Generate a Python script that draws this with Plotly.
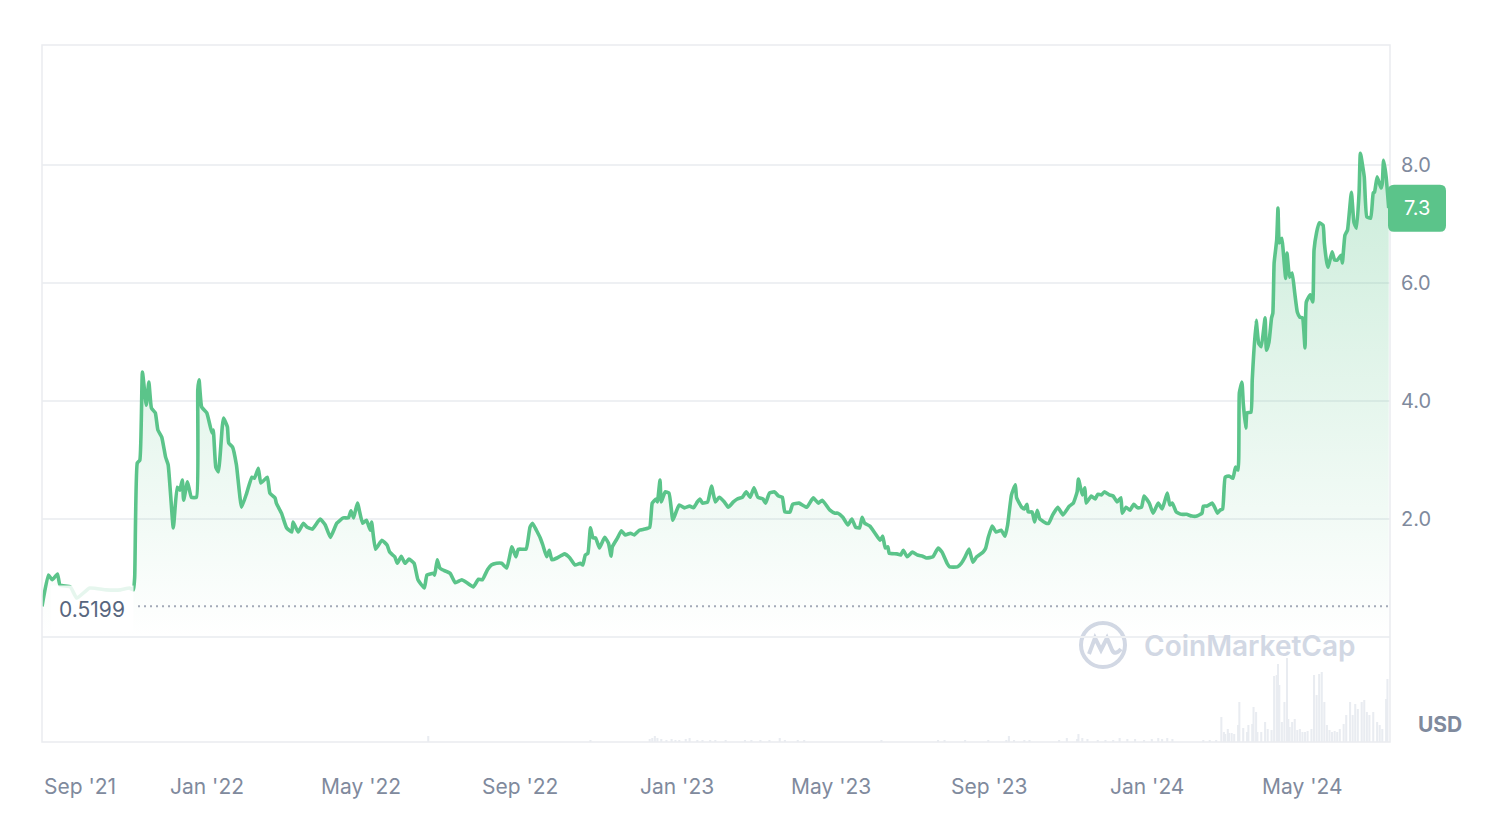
import pandas as pd
import plotly.graph_objects as go

# ---------------- data ----------------
start_date = "2021-08-26"          # left edge of the time axis
end_offset_days = 1047             # right edge of the time axis (days after start)

# price samples: day offset from start_date, price in USD
price_day = [
    0, 5, 8, 12, 14, 22, 27, 37, 50, 61,
    68, 71, 72, 74, 76, 78, 81, 83, 85, 88,
    90, 93, 96, 98, 102, 105, 107, 109, 110, 113,
    116, 120, 121, 122, 124, 128, 132, 133, 135, 137,
    140, 141, 144, 145, 148, 151, 155, 159, 163, 165,
    168, 170, 175, 177, 181, 182, 186, 190, 194, 195,
    199, 203, 206, 210, 216, 220, 224, 229, 234, 238,
    240, 242, 245, 249, 252, 255, 256, 259, 264, 268,
    270, 274, 276, 279, 282, 285, 289, 292, 297, 299,
    304, 305, 307, 309, 311, 317, 321, 326, 330, 335,
    339, 342, 346, 349, 353, 357, 361, 365, 368, 370,
    376, 379, 381, 384, 387, 389, 392, 394, 396, 400,
    404, 406, 410, 414, 418, 420, 422, 424, 426, 428,
    430, 433, 437, 440, 442, 443, 447, 450, 453, 457,
    460, 464, 468, 472, 474, 477, 478, 480, 481, 484,
    487, 490, 493, 495, 499, 503, 506, 509, 511, 513,
    517, 520, 523, 526, 530, 533, 537, 540, 544, 547,
    550, 553, 556, 560, 562, 565, 569, 572, 575, 577,
    581, 583, 588, 594, 599, 603, 606, 612, 616, 618,
    622, 626, 629, 632, 635, 637, 639, 643, 647, 651,
    653, 655, 657, 658, 664, 667, 669, 672, 676, 680,
    684, 687, 692, 696, 699, 703, 705, 711, 714, 717,
    720, 723, 726, 731, 733, 735, 738, 741, 745, 748,
    750, 753, 756, 757, 761, 763, 765, 766, 769, 771,
    773, 775, 777, 780, 782, 785, 789, 793, 798, 801,
    804, 805, 808, 810, 811, 815, 818, 820, 823, 825,
    829, 832, 835, 838, 839, 842, 845, 848, 851, 854,
    856, 860, 863, 867, 870, 874, 876, 878, 881, 885,
    889, 893, 897, 901, 902, 905, 909, 911, 913, 915,
    917, 919, 922, 925, 927, 929, 930, 932, 933, 935,
    936, 939, 940, 943, 945, 947, 950, 951, 953, 955,
    956, 957, 959, 960, 961, 963, 964, 966, 967, 969,
    971, 973, 975, 977, 979, 981, 982, 985, 987, 988,
    990, 992, 995, 996, 998, 999, 1002, 1004, 1006, 1009,
    1010, 1012, 1014, 1017, 1019, 1021, 1023, 1024, 1027, 1029,
    1032, 1034, 1035, 1037, 1040, 1041, 1042, 1044, 1046,
]
price_usd = [
    0.52, 1.05, 0.97, 1.07, 0.88, 0.85, 0.66, 0.83, 0.80, 0.80,
    0.83, 0.80, 1.02, 2.95, 3.00, 4.49, 3.93, 4.32, 3.88, 3.80,
    3.51, 3.39, 3.05, 2.92, 1.85, 2.54, 2.49, 2.66, 2.32, 2.63,
    2.37, 2.37, 4.19, 4.36, 3.90, 3.80, 3.46, 3.51, 2.88, 2.80,
    3.56, 3.71, 3.56, 3.29, 3.22, 2.92, 2.20, 2.44, 2.71, 2.69,
    2.86, 2.61, 2.71, 2.44, 2.36, 2.27, 2.10, 1.85, 1.78, 1.95,
    1.78, 1.93, 1.86, 1.83, 2.00, 1.90, 1.69, 1.93, 2.02, 2.02,
    2.14, 2.02, 2.27, 1.93, 1.98, 1.81, 1.95, 1.49, 1.64, 1.56,
    1.44, 1.36, 1.25, 1.37, 1.25, 1.32, 1.25, 0.97, 0.83, 1.05,
    1.08, 1.05, 1.31, 1.17, 1.14, 1.08, 0.92, 0.97, 0.92, 0.85,
    0.98, 0.97, 1.14, 1.22, 1.25, 1.25, 1.17, 1.53, 1.36, 1.49,
    1.49, 1.86, 1.93, 1.81, 1.68, 1.56, 1.36, 1.47, 1.31, 1.34,
    1.39, 1.41, 1.34, 1.22, 1.25, 1.22, 1.39, 1.42, 1.85, 1.68,
    1.68, 1.51, 1.69, 1.59, 1.37, 1.53, 1.68, 1.80, 1.73, 1.76,
    1.73, 1.81, 1.83, 1.86, 2.27, 2.34, 2.29, 2.66, 2.29, 2.46,
    2.44, 1.98, 2.15, 2.24, 2.19, 2.22, 2.19, 2.29, 2.34, 2.27,
    2.29, 2.56, 2.29, 2.37, 2.29, 2.20, 2.29, 2.34, 2.37, 2.46,
    2.37, 2.53, 2.37, 2.34, 2.27, 2.44, 2.46, 2.39, 2.37, 2.12,
    2.12, 2.25, 2.27, 2.20, 2.36, 2.27, 2.32, 2.15, 2.10, 2.10,
    2.03, 1.90, 2.00, 1.86, 1.85, 2.03, 1.93, 1.88, 1.76, 1.64,
    1.71, 1.51, 1.53, 1.42, 1.41, 1.39, 1.47, 1.36, 1.44, 1.39,
    1.37, 1.34, 1.36, 1.51, 1.44, 1.25, 1.19, 1.19, 1.25, 1.36,
    1.49, 1.27, 1.36, 1.44, 1.51, 1.69, 1.88, 1.78, 1.81, 1.71,
    1.90, 2.41, 2.58, 2.36, 2.20, 2.17, 2.25, 2.12, 2.12, 1.95,
    2.15, 2.00, 1.97, 1.93, 1.93, 2.07, 2.20, 2.07, 2.22, 2.27,
    2.46, 2.68, 2.41, 2.53, 2.27, 2.39, 2.34, 2.42, 2.41, 2.46,
    2.41, 2.39, 2.29, 2.36, 2.10, 2.20, 2.15, 2.25, 2.19, 2.20,
    2.39, 2.27, 2.10, 2.27, 2.17, 2.44, 2.24, 2.27, 2.12, 2.08,
    2.08, 2.05, 2.05, 2.10, 2.22, 2.22, 2.27, 2.19, 2.10, 2.15,
    2.17, 2.71, 2.73, 2.69, 2.88, 2.83, 4.14, 4.32, 3.97, 3.54,
    3.80, 3.81, 4.36, 5.37, 4.98, 4.92, 5.41, 4.86, 5.00, 5.41,
    5.49, 6.34, 6.73, 7.27, 6.68, 6.76, 6.56, 6.08, 6.51, 6.10,
    6.17, 5.83, 5.51, 5.42, 5.41, 4.90, 5.68, 5.80, 5.68, 6.56,
    6.86, 7.02, 6.98, 6.68, 6.34, 6.27, 6.53, 6.39, 6.39, 6.47,
    6.34, 6.81, 6.90, 7.54, 7.03, 6.93, 7.54, 8.20, 7.80, 7.12,
    7.10, 7.53, 7.54, 7.80, 7.61, 7.69, 8.08, 7.80, 7.27,
]

# volume samples: day offset from start_date, volume (relative units)
vol_day = [
    300, 426, 472, 474, 476, 478, 481, 485, 489, 492,
    495, 500, 503, 509, 513, 519, 523, 531, 546, 551,
    558, 565, 573, 577, 587, 592, 652, 696, 701, 717,
    735, 749, 751, 755, 763, 767, 790, 796, 804, 805,
    808, 812, 820, 826, 832, 837, 843, 849, 856, 862,
    867, 870, 874, 878, 902, 907, 912,
    916, 918, 919, 921, 922, 924, 926, 929, 930, 933,
    936, 937, 940, 941, 943, 944, 947, 950, 952, 955,
    957, 959, 960, 961, 963, 965, 967, 968, 969, 971,
    973, 975, 977, 979, 981, 983, 986, 988, 990, 992,
    994, 996, 998, 1000, 1002, 1004, 1006, 1008, 1011, 1013,
    1016, 1018, 1020, 1022, 1025, 1027, 1029, 1031, 1034, 1037,
    1039, 1041, 1044, 1045,
]
vol_value = [
    6, 2, 3, 4, 6, 4, 3, 2, 3, 2,
    2, 3, 4, 2, 2, 2, 2, 2, 2, 2,
    2, 2, 4, 2, 2, 2, 2, 2, 2, 2,
    2, 2, 6, 2, 2, 2, 2, 4, 3, 8,
    4, 3, 2, 2, 2, 4, 3, 3, 2, 3,
    4, 3, 4, 3, 2, 2, 2,
    25, 10, 8, 13, 9, 9, 8, 17, 40, 14,
    10, 17, 18, 35, 30, 10, 10, 20, 13, 12,
    66, 67, 78, 57, 20, 40, 84, 23, 15, 20,
    23, 12, 13, 10, 10, 11, 13, 67, 47, 68,
    70, 40, 17, 12, 10, 11, 10, 13, 18, 27,
    40, 27, 38, 33, 40, 42, 30, 27, 30, 20,
    17, 13, 43, 63,
]

tick_dates = ["2021-09-01", "2022-01-01", "2022-05-01", "2022-09-01", "2023-01-01",
              "2023-05-01", "2023-09-01", "2024-01-01", "2024-05-01"]
tick_labels = ["Sep '21", "Jan '22", "May '22", "Sep '22", "Jan '23",
               "May '23", "Sep '23", "Jan '24", "May '24"]
y_tick_vals = [0, 2, 4, 6, 8]
y_tick_text = ["", "2.0", "4.0", "6.0", "8.0"]
min_price = 0.5199

assert len(price_day) == len(price_usd)
assert len(vol_day) == len(vol_value)

# ---------------- styling ----------------
GREEN = "#5BC48A"
GRID = "#EEF0F3"
LABEL = "#808A9D"
DARK = "#58667E"
WM = "#D2D8E4"
FONT = "Inter"

W, H = 1500, 820
ML, MR, MT, MB = 42, 110, 45, 78
PW, PH = W - ML - MR, H - MT - MB
Y_RANGE = [-1.779, 10.035]
VOL_DOMAIN_TOP = 105 / PH


def pxx(px):
    return (px - ML) / PW


def pxy(py):
    return (H - MB - py) / PH


base = pd.Timestamp(start_date)
price_dates = base + pd.to_timedelta(price_day, unit="D")
vol_dates = base + pd.to_timedelta(vol_day, unit="D")
x_end = base + pd.Timedelta(days=end_offset_days)

fig = go.Figure()

fig.add_trace(go.Bar(
    x=vol_dates, y=vol_value, yaxis="y2",
    marker=dict(color="#E9ECF1", line=dict(width=0)),
    width=1.6 * 86400000, hoverinfo="skip", showlegend=False,
))

fig.add_trace(go.Scatter(
    x=price_dates, y=price_usd, mode="lines",
    line=dict(color=GREEN, width=3.6, shape="spline", smoothing=0.4),
    fill="tozeroy",
    fillgradient=dict(
        type="vertical",
        colorscale=[[0, "rgba(91,196,138,0.0)"], [1, "rgba(91,196,138,0.32)"]],
        start=0, stop=max(price_usd),
    ),
    hoverinfo="skip", showlegend=False,
))

shapes = []
# plot border
shapes.append(dict(type="rect", xref="paper", yref="paper", x0=0, x1=1, y0=0, y1=1,
                   line=dict(color="#EAECF0", width=1.5), layer="above"))
# dotted minimum line
shapes.append(dict(type="line", xref="paper", yref="y", x0=pxx(138), x1=1,
                   y0=min_price, y1=min_price,
                   line=dict(color="#A3AAB8", width=2, dash="2px,4px")))
# current price badge (rounded rectangle)
last_price = price_usd[-1]
yanchor_last = (last_price - Y_RANGE[0]) / (Y_RANGE[1] - Y_RANGE[0])
x0b, x1b, y0b, y1b, r = -2, 56, -23.5, 23.5, 6
badge_path = (f"M {x0b + r},{y0b} L {x1b - r},{y0b} Q {x1b},{y0b} {x1b},{y0b + r} "
              f"L {x1b},{y1b - r} Q {x1b},{y1b} {x1b - r},{y1b} L {x0b + r},{y1b} "
              f"Q {x0b},{y1b} {x0b},{y1b - r} L {x0b},{y0b + r} Q {x0b},{y0b} {x0b + r},{y0b} Z")
shapes.append(dict(type="path", xref="paper", yref="paper", xsizemode="pixel", ysizemode="pixel",
                   xanchor=1, yanchor=yanchor_last, path=badge_path,
                   fillcolor=GREEN, line=dict(width=0), layer="above"))
# watermark logo
shapes.append(dict(type="circle", xref="paper", yref="paper", xsizemode="pixel", ysizemode="pixel",
                   xanchor=pxx(1103), yanchor=pxy(645), x0=-22, x1=22, y0=-22, y1=22,
                   line=dict(color=WM, width=4), fillcolor="rgba(0,0,0,0)", layer="below"))
shapes.append(dict(type="path", xref="paper", yref="paper", xsizemode="pixel", ysizemode="pixel",
                   xanchor=pxx(1103), yanchor=pxy(645),
                   path="M -14,-9 L -8,7 L -2,-5 L 4,7 L 9,-5 Q 12,-11 18,-4",
                   line=dict(color=WM, width=4), fillcolor="rgba(0,0,0,0)", layer="below"))

annotations = []
# x tick labels
for i, (d, t) in enumerate(zip(tick_dates, tick_labels)):
    first = i == 0
    annotations.append(dict(x=base if first else d, xref="x", y=0, yref="paper", yshift=-44,
                            text=t, showarrow=False, xanchor="left" if first else "center",
                            yanchor="middle",
                            font=dict(family=FONT, size=21, color=LABEL)))
# min label (semi-opaque white box, fades the line behind it)
annotations.append(dict(x=pxx(92), xref="paper", y=min_price, yref="y", yshift=-3,
                        text=f"{min_price:.4f}", showarrow=False, xanchor="center", yanchor="middle",
                        width=72, height=36, borderpad=5, bgcolor="rgba(255,255,255,0.85)",
                        font=dict(family=FONT, size=21, color=DARK)))
# current price text
annotations.append(dict(x=pxx(1417), xref="paper", y=yanchor_last, yref="paper",
                        text=f"{last_price:.1f}", showarrow=False, xanchor="center", yanchor="middle",
                        font=dict(family=FONT, size=20, color="white")))
# USD
annotations.append(dict(x=pxx(1440), xref="paper", y=pxy(724), yref="paper",
                        text="<b>USD</b>", showarrow=False, xanchor="center", yanchor="middle",
                        font=dict(family=FONT, size=21, color=LABEL)))
# watermark text
annotations.append(dict(x=pxx(1250), xref="paper", y=pxy(646), yref="paper",
                        text="CoinMarketCap", showarrow=False, xanchor="center", yanchor="middle",
                        font=dict(family=FONT, size=28, color=WM, weight=600)))

fig.update_layout(
    width=W, height=H, autosize=False,
    margin=dict(l=ML, r=MR, t=MT, b=MB, pad=0),
    paper_bgcolor="white", plot_bgcolor="rgba(0,0,0,0)",
    showlegend=False, hovermode=False,
    xaxis=dict(range=[base, x_end], showgrid=False, zeroline=False, showline=False,
               showticklabels=False, ticks="", fixedrange=True),
    yaxis=dict(range=Y_RANGE, side="right", tickmode="array",
               tickvals=y_tick_vals, ticktext=y_tick_text,
               showgrid=True, gridcolor=GRID, gridwidth=1.5, zeroline=False, showline=False,
               ticks="", ticklabelstandoff=10,
               tickfont=dict(family=FONT, size=20, color=LABEL), fixedrange=True),
    yaxis2=dict(domain=[0, VOL_DOMAIN_TOP], range=[0, 105], visible=False,
                showgrid=False, zeroline=False, fixedrange=True),
    shapes=shapes, annotations=annotations,
)

fig.write_html("out.html")
